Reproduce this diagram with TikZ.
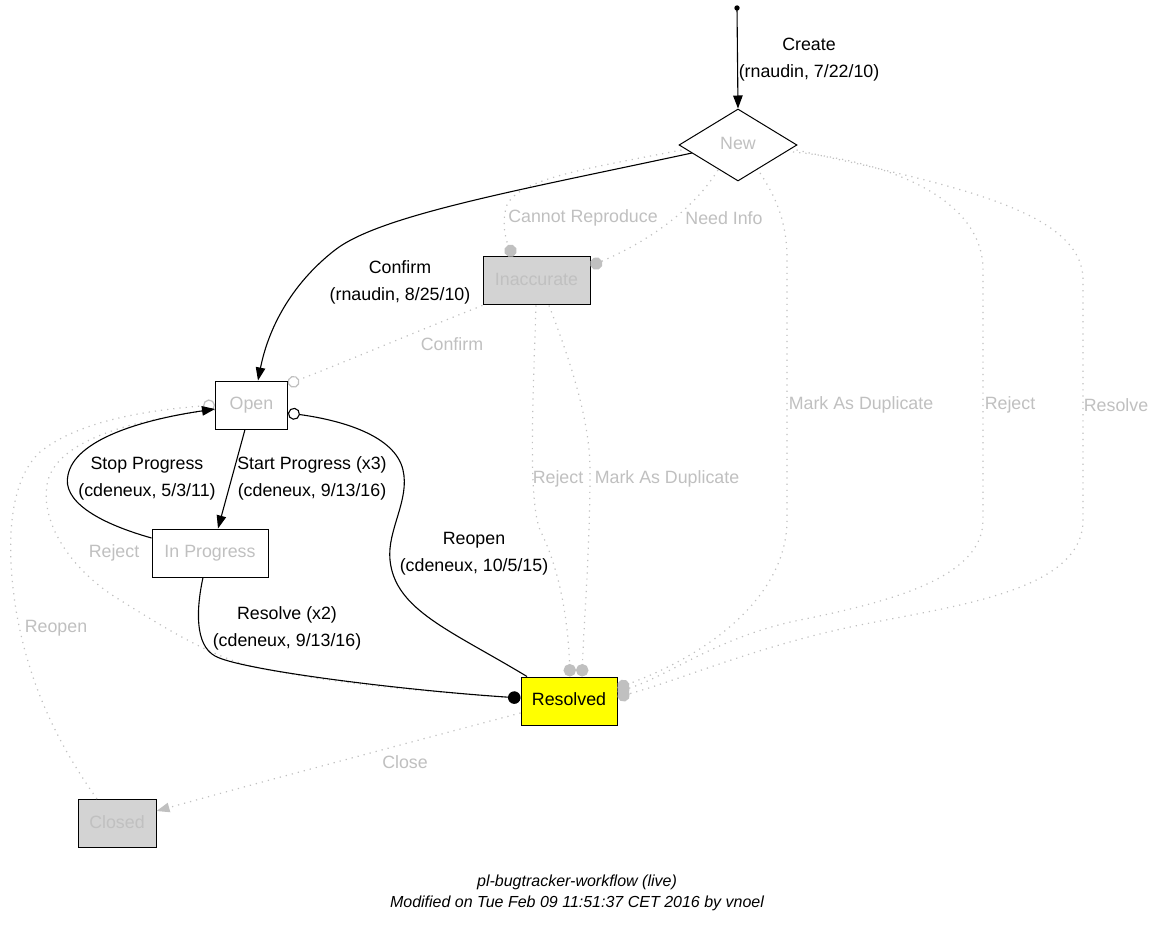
\documentclass[tikz,border=0pt]{standalone}
\usepackage{fontspec}
\setmainfont{Liberation Sans}
\usetikzlibrary{arrows.meta,shapes.geometric}
\definecolor{gv}{HTML}{C0C0C0}
\definecolor{lg}{HTML}{D3D3D3}
\definecolor{yel}{HTML}{FFFF00}
\begin{document}
\begin{tikzpicture}[x=1pt,y=-1pt,
  state/.style={draw=black, line width=1pt, rectangle, minimum height=48pt, inner sep=0pt, text height=13pt, text depth=4pt, font=\fontsize{17.8}{21}\selectfont, text=gv},
  lbl/.style={align=center, font=\fontsize{17.8}{27}\selectfont, inner sep=0pt, text=black, yshift=-2pt},
  glbl/.style={lbl, text=gv},
  foot/.style={align=center, font=\fontsize{16}{21}\selectfont\itshape, inner sep=0pt, yshift=-2pt},
  solidedge/.style={draw=black, line width=1.1pt},
  dotedge/.style={draw=gv, line width=1.2pt, dash pattern=on 1.2pt off 5pt},
  tri/.style={-{Triangle[length=13pt,width=9.5pt]}},
  dothd/.style={-{Circle[length=12.5pt]}},
  odothd/.style={-{Circle[open,length=12pt]}}
]
\useasboundingbox (0,0) rectangle (1154,925);
\fill[white] (0,0) rectangle (1154,925);

% nodes
\coordinate (start) at (737,8);
\node[diamond, draw=black, line width=1pt, minimum width=118pt, minimum height=72pt, shape aspect=1.64, inner sep=0pt, text height=13pt, text depth=4pt, font=\fontsize{17.8}{21}\selectfont, text=gv] (new) at (738,145) {New};
\node[state, fill=lg, minimum width=107pt] (inacc) at (536.5,281) {Inaccurate};
\node[state, fill=white, minimum width=72pt] (open) at (251.5,405) {Open};
\node[state, fill=white, minimum width=116pt] (inprog) at (210,553) {In Progress};
\node[state, fill=yel, minimum width=96pt, text=black] (res) at (569,701) {Resolved};
\node[state, fill=lg, minimum width=78pt] (closed) at (117,823.5) {Closed};

% dotted edges
\draw[dotedge, dothd, gv] (new.west) ++(3,5) coordinate (n1)
  .. controls (590,168) and (520,178) .. (507,205)
  .. controls (500,225) and (508,245) .. ([xshift=-23.5pt]inacc.north);
\draw[dotedge, dothd, gv] (718,170) coordinate (n2)
  .. controls (690,215) and (640,245) .. ([yshift=15pt]inacc.east);
\draw[dotedge, odothd, gv] (inacc.south west)
  .. controls (420,330) and (350,360) .. ([yshift=21pt]open.east);
\draw[dotedge, dothd, gv] ([xshift=-0.5pt]inacc.south)
  .. controls (533,400) and (528,500) .. (540,530)
  .. controls (560,570) and (568,620) .. ([xshift=1pt]res.north);
\draw[dotedge, dothd, gv] ([xshift=12.5pt]inacc.south)
  .. controls (570,360) and (590,420) .. (590,470)
  .. controls (590,550) and (584,620) .. ([xshift=13pt]res.north);
\draw[dotedge, dothd, gv] (760,173) coordinate (n3)
  .. controls (778,200) and (787,225) .. (787,260) -- (787,520)
  .. controls (787,590) and (720,650) .. ([yshift=13pt]res.east);
\draw[dotedge, dothd, gv] (793,152) coordinate (n4)
  .. controls (880,160) and (983,195) .. (983,270) -- (983,520)
  .. controls (983,575) and (900,600) .. (800,620)
  .. controls (720,636) and (670,675) .. ([yshift=9pt]res.east);
\draw[dotedge, dothd, gv] (new.east) ++(-1,5) coordinate (n5)
  .. controls (950,185) and (1083,210) .. (1083,280) -- (1083,520)
  .. controls (1083,590) and (960,605) .. (860,625)
  .. controls (760,645) and (680,680) .. ([yshift=4pt]res.east);
\draw[dotedge, -{Triangle[length=13pt,width=9.5pt]}, gv] ([yshift=-12pt]res.west)
  .. controls (400,745) and (250,785) .. ([yshift=12.5pt]closed.east);
\draw[dotedge, odothd, gv] ([xshift=-20pt]closed.north)
  .. controls (55,740) and (28,680) .. (16,610)
  .. controls (5,540) and (10,480) .. (40,452)
  .. controls (80,420) and (150,410) .. (open.west);
\draw[dotedge, dothd, gv] ([yshift=-5pt]open.west)
  .. controls (130,420) and (60,440) .. (48,480)
  .. controls (38,520) and (70,570) .. (120,600)
  .. controls (160,625) and (200,650) .. (240,663)
  .. controls (300,680) and (420,692) .. ([yshift=3pt]res.west);

% solid edges
\fill (start) circle (2.7pt);
\draw[solidedge, tri] (start) -- (new.north);
\draw[solidedge, tri] (692,153) coordinate (n6)
  .. controls (520,190) and (380,215) .. (335,250)
  .. controls (290,285) and (268,330) .. ([xshift=6.5pt]open.north);
\draw[solidedge, tri] ([xshift=-6.5pt]open.south) -- ([xshift=8pt]inprog.north);
\draw[solidedge, tri] ([yshift=15pt]inprog.west)
  .. controls (95,522) and (62,500) .. (68,475)
  .. controls (75,440) and (140,420) .. ([yshift=-4pt]open.west);
\draw[solidedge, dothd] ([xshift=-7pt]inprog.south)
  .. controls (196,610) and (195,645) .. (215,656)
  .. controls (240,670) and (400,690) .. ([yshift=3pt]res.west);
\draw[solidedge, odothd] ([xshift=-42pt]res.north)
  .. controls (450,630) and (395,610) .. (390,560)
  .. controls (387,530) and (410,500) .. (403,470)
  .. controls (395,435) and (340,420) .. ([yshift=-8pt]open.east);

% edge labels
\node[lbl] (lcreate) at (809,57.5) {Create\\(rnaudin, 7/22/10)};
\node[lbl] (lconfirm) at (400,280.5) {Confirm\\(rnaudin, 8/25/10)};
\node[lbl] (lstart) at (312,476.5) {Start Progress (x3)\\(cdeneux, 9/13/16)};
\node[lbl] (lstop) at (147,477) {Stop Progress\\(cdeneux, 5/3/11)};
\node[lbl] (lresolve) at (287,626.5) {Resolve (x2)\\(cdeneux, 9/13/16)};
\node[lbl] (lreopen) at (474,551.5) {Reopen\\(cdeneux, 10/5/15)};
\node[glbl] (lcannot) at (583,216) {Cannot Reproduce};
\node[glbl] (lneed) at (724,216) {Need Info};
\node[glbl] (lconf2) at (452,342) {Confirm};
\node[glbl] (lrej1) at (558,477) {Reject};
\node[glbl] (lmark1) at (667,477) {Mark As Duplicate};
\node[glbl] (lmark2) at (861,403) {Mark As Duplicate};
\node[glbl] (lrej2) at (1010,403) {Reject};
\node[glbl] (lres2) at (1116,403) {Resolve};
\node[glbl] (lrej3) at (114,551) {Reject};
\node[glbl] (lreop2) at (56,626) {Reopen};
\node[glbl] (lclose) at (405,760) {Close};

% footer
\node[foot] (footer) at (577,890.5) {pl-bugtracker-workflow (live)\\Modified on Tue Feb 09 11:51:37 CET 2016 by vnoel};
\end{tikzpicture}
\end{document}
